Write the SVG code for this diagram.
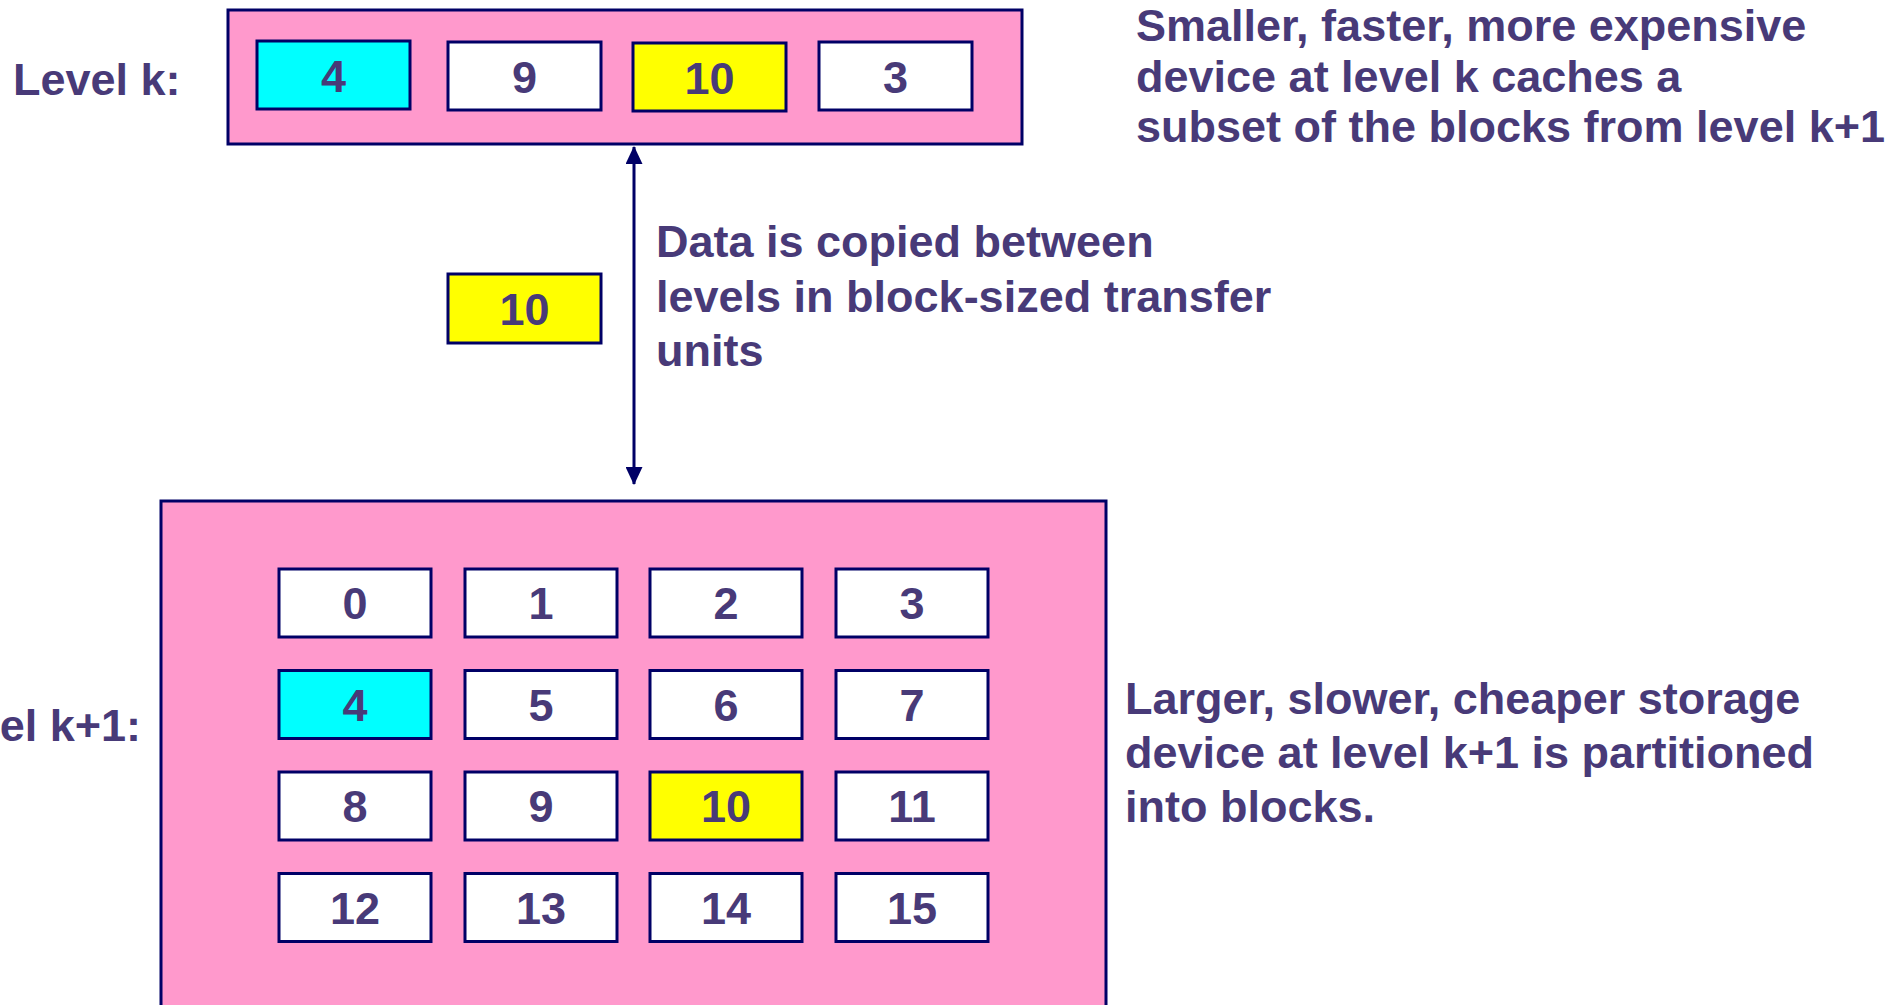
<svg xmlns="http://www.w3.org/2000/svg" width="1902" height="1005" viewBox="0 0 1902 1005">
<style>
  .t { font-family: "Liberation Sans", Arial, sans-serif; font-weight: bold; font-size: 45px; fill: #483A78; }
  .c { text-anchor: middle; }
  .outer { fill: #FF99CC; stroke: #000066; stroke-width: 3; }
  .blk { stroke: #000066; stroke-width: 3; }
  .w { fill: #FFFFFF; }
  .cy { fill: #00FFFF; }
  .ye { fill: #FFFF00; }
  .conn { stroke: #000066; stroke-width: 3; fill: none; }
</style>
<defs>
  <marker id="ah" viewBox="0 0 18 17" refX="17" refY="8.5" markerWidth="18" markerHeight="17" markerUnits="userSpaceOnUse" orient="auto-start-reverse">
    <path d="M0,0 L18,8.5 L0,17 Z" fill="#000066"/>
  </marker>
</defs>
<rect width="1902" height="1005" fill="#FFFFFF"/>

<g id="level-k">
  <rect class="outer" x="228" y="10" width="794" height="134"/>
  <text class="t" x="13" y="95">Level k:</text>
</g>
<g id="k-block-4"><rect class="blk cy" x="257" y="41" width="153" height="68"/><text class="t c" x="333.5" y="91.5">4</text></g>
<g id="k-block-9"><rect class="blk w" x="448" y="42" width="153" height="68"/><text class="t c" x="524.5" y="92.5">9</text></g>
<g id="k-block-10"><rect class="blk ye" x="633" y="43" width="153" height="68"/><text class="t c" x="709.5" y="93.5">10</text></g>
<g id="k-block-3"><rect class="blk w" x="819" y="42" width="153" height="68"/><text class="t c" x="895.5" y="92.5">3</text></g>

<g id="note-top">
  <text class="t" x="1136" y="41">Smaller, faster, more expensive</text>
  <text class="t" x="1136" y="92">device at level k caches a</text>
  <text class="t" x="1136" y="142">subset of the blocks from level k+1</text>
</g>

<g id="transfer-block-10"><rect class="blk ye" x="448" y="274" width="153" height="69"/><text class="t c" x="524.5" y="325">10</text></g>

<g id="note-transfer">
  <text class="t" x="656" y="257">Data is copied between</text>
  <text class="t" x="656" y="311.5">levels in block-sized transfer</text>
  <text class="t" x="656" y="366">units</text>
</g>

<g id="connectors">
  <line class="conn" x1="634" y1="147" x2="634" y2="484" marker-start="url(#ah)" marker-end="url(#ah)"/>
</g>

<g id="level-k1">
  <rect class="outer" x="161" y="501" width="945" height="530"/>
  <text class="t" x="141" y="741" text-anchor="end">el k+1:</text>
</g>

<g id="b0"><rect class="blk w" x="279" y="569" width="152" height="68"/><text class="t c" x="355" y="619">0</text></g>
<g id="b1"><rect class="blk w" x="465" y="569" width="152" height="68"/><text class="t c" x="541" y="619">1</text></g>
<g id="b2"><rect class="blk w" x="650" y="569" width="152" height="68"/><text class="t c" x="726" y="619">2</text></g>
<g id="b3"><rect class="blk w" x="836" y="569" width="152" height="68"/><text class="t c" x="912" y="619">3</text></g>

<g id="b4"><rect class="blk cy" x="279" y="670.5" width="152" height="68"/><text class="t c" x="355" y="720.5">4</text></g>
<g id="b5"><rect class="blk w" x="465" y="670.5" width="152" height="68"/><text class="t c" x="541" y="720.5">5</text></g>
<g id="b6"><rect class="blk w" x="650" y="670.5" width="152" height="68"/><text class="t c" x="726" y="720.5">6</text></g>
<g id="b7"><rect class="blk w" x="836" y="670.5" width="152" height="68"/><text class="t c" x="912" y="720.5">7</text></g>

<g id="b8"><rect class="blk w" x="279" y="772" width="152" height="68"/><text class="t c" x="355" y="822">8</text></g>
<g id="b9"><rect class="blk w" x="465" y="772" width="152" height="68"/><text class="t c" x="541" y="822">9</text></g>
<g id="b10"><rect class="blk ye" x="650" y="772" width="152" height="68"/><text class="t c" x="726" y="822">10</text></g>
<g id="b11"><rect class="blk w" x="836" y="772" width="152" height="68"/><text class="t c" x="912" y="822">11</text></g>

<g id="b12"><rect class="blk w" x="279" y="873.5" width="152" height="68"/><text class="t c" x="355" y="923.5">12</text></g>
<g id="b13"><rect class="blk w" x="465" y="873.5" width="152" height="68"/><text class="t c" x="541" y="923.5">13</text></g>
<g id="b14"><rect class="blk w" x="650" y="873.5" width="152" height="68"/><text class="t c" x="726" y="923.5">14</text></g>
<g id="b15"><rect class="blk w" x="836" y="873.5" width="152" height="68"/><text class="t c" x="912" y="923.5">15</text></g>

<g id="note-bottom">
  <text class="t" x="1125" y="714">Larger, slower, cheaper storage</text>
  <text class="t" x="1125" y="768">device at level k+1 is partitioned</text>
  <text class="t" x="1125" y="822">into blocks.</text>
</g>
</svg>
